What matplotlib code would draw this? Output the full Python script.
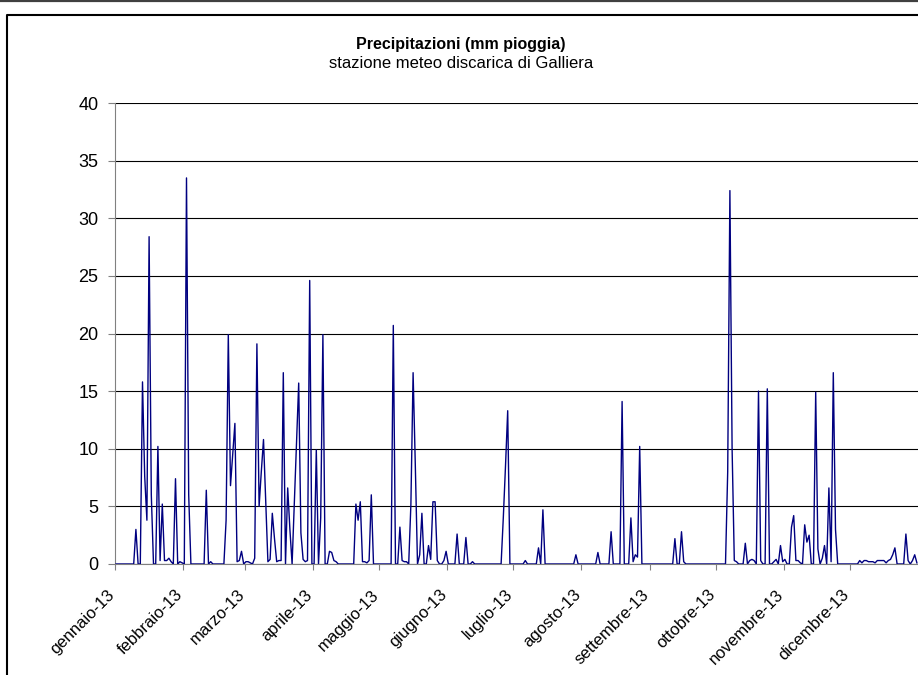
import numpy as np
import matplotlib
matplotlib.use('Agg')
import matplotlib.pyplot as plt
import matplotlib.transforms as mtransforms
from matplotlib.lines import Line2D

plt.rcParams['font.family'] = ['Liberation Sans', 'DejaVu Sans']

# Giorni piovosi (indice del giorno nel 2013, 0 = 1 gennaio) e mm di pioggia
giorni = [9, 12, 13, 14, 15, 16, 19, 20, 21, 22, 23, 24, 25, 27, 29, 30,
          32, 33, 41, 43, 50, 51, 52, 53, 54, 55, 56, 57, 59, 60, 61, 63,
          64, 65, 66, 67, 68, 69, 70, 71, 72, 73, 74, 75, 76, 78, 79, 81,
          82, 83, 84, 85, 86, 87, 88, 91, 93, 94, 97, 98, 99, 100,
          109, 110, 111, 112, 113, 114, 115, 116, 126, 129, 130, 131, 132,
          134, 135, 136, 138, 139, 142, 143, 144, 145, 146, 149, 150, 155,
          159, 162, 176, 177, 178, 186, 192, 194, 209, 219, 225, 230, 234,
          235, 236, 237, 238, 254, 257, 258, 278, 279, 280, 281, 282,
          286, 288, 289, 290, 292, 293, 296, 299, 300, 302, 303, 304, 307,
          308, 309, 310, 311, 313, 314, 315, 318, 319, 321, 322, 324, 325,
          326, 327, 338, 339, 340, 341, 342, 343, 344, 345, 346, 347, 348,
          349, 350, 351, 352, 353, 354, 359, 360, 362, 363, 364]
mm = [3.0, 15.8, 7.6, 3.8, 28.4, 6.0, 10.2, 0.3, 5.2, 0.3, 0.3, 0.5, 0.2, 7.4, 0.2, 0.1,
      33.5, 6.0, 6.4, 0.2, 3.8, 19.9, 6.8, 9.5, 12.2, 0.2, 0.3, 1.1, 0.2, 0.2, 0.1, 0.5,
      19.1, 5.0, 8.0, 10.8, 5.5, 0.2, 0.4, 4.4, 2.2, 0.2, 0.3, 0.3, 16.6, 6.6, 3.0, 5.2,
      10.5, 15.7, 2.7, 0.4, 0.2, 0.3, 24.6, 9.9, 4.0, 19.9, 1.1, 1.0, 0.3, 0.2,
      5.2, 3.8, 5.4, 0.2, 0.2, 0.1, 0.3, 6.0, 20.7, 3.2, 0.3, 0.2, 0.2,
      5.2, 16.6, 8.6, 0.8, 4.4, 1.6, 0.4, 5.4, 5.4, 0.3, 0.3, 1.1, 2.6,
      2.3, 0.2, 4.0, 8.5, 13.3, 0.3, 1.4, 4.7, 0.8, 1.0, 2.8, 14.1, 4.0,
      0.2, 0.8, 0.6, 10.2, 2.2, 2.8, 0.2, 8.0, 32.4, 10.0, 0.3, 0.2,
      1.8, 0.3, 0.4, 0.3, 15.0, 0.3, 15.2, 0.2, 0.4, 1.6, 0.2, 0.4, 3.2,
      4.2, 0.3, 0.3, 0.1, 3.4, 1.9, 2.5, 14.9, 1.3, 0.5, 1.6, 6.6, 0.2,
      16.6, 3.0, 0.3, 0.1, 0.3, 0.3, 0.2, 0.2, 0.2, 0.1, 0.3, 0.3, 0.3,
      0.3, 0.1, 0.3, 0.4, 0.8, 1.4, 2.6, 0.3, 0.3, 0.8, 0.1]

inizio_mesi = [0, 31, 59, 90, 120, 151, 181, 212, 243, 273, 304, 334]
mesi = ['gennaio-13', 'febbraio-13', 'marzo-13', 'aprile-13', 'maggio-13',
        'giugno-13', 'luglio-13', 'agosto-13', 'settembre-13', 'ottobre-13',
        'novembre-13', 'dicembre-13']

# serie giornaliera completa (giorni senza pioggia = 0)
giorno = np.arange(365)
pioggia = np.zeros(365)
pioggia[giorni] = mm

fig = plt.figure(figsize=(9.18, 6.75), dpi=100)
ax = fig.add_axes([115 / 918, 111 / 675, 803 / 918, 461 / 675])

ax.plot(giorno, pioggia, color='#000080', lw=1.0, zorder=3)

ax.set_xlim(-0.5, 364.5)
ax.set_ylim(0, 40)
ax.set_yticks(range(0, 41, 5))
ax.set_xticks(np.array(inizio_mesi) - 0.5)
ax.set_xticklabels(mesi, rotation=45, ha='right', va='top',
                   rotation_mode='anchor', fontsize=12)
ax.tick_params(axis='y', labelsize=13, direction='out', length=5,
               color='#808080', pad=7)
ax.tick_params(axis='x', direction='out', length=4, color='#808080', pad=9)

# sposta le etichette dei mesi un po' a sinistra e in basso
offset = mtransforms.ScaledTranslation(-8 / 100, -5 / 100, fig.dpi_scale_trans)
for lab in ax.get_xticklabels():
    lab.set_transform(lab.get_transform() + offset)

# griglia orizzontale
ax.grid(axis='y', color='black', lw=0.8)
ax.set_axisbelow(True)
for s in ['top', 'right']:
    ax.spines[s].set_visible(False)
ax.spines['left'].set_color('#808080')
ax.spines['bottom'].set_color('#808080')

# titoli
fig.text(461 / 918, 1 - 44 / 675, 'Precipitazioni (mm pioggia)', ha='center',
         va='center', fontsize=11.5, fontweight='bold')
fig.text(461 / 918, 1 - 64 / 675, 'stazione meteo discarica di Galliera',
         ha='center', va='center', fontsize=12)

# bordi della figura
fig.add_artist(Line2D([0, 1], [1 - 1 / 675, 1 - 1 / 675], color='#404040', lw=1.6))
fig.add_artist(Line2D([7 / 918, 7 / 918, 1], [0, 1 - 15 / 675, 1 - 15 / 675],
                      color='black', lw=1.5))

fig.savefig('out.png', dpi=100)
